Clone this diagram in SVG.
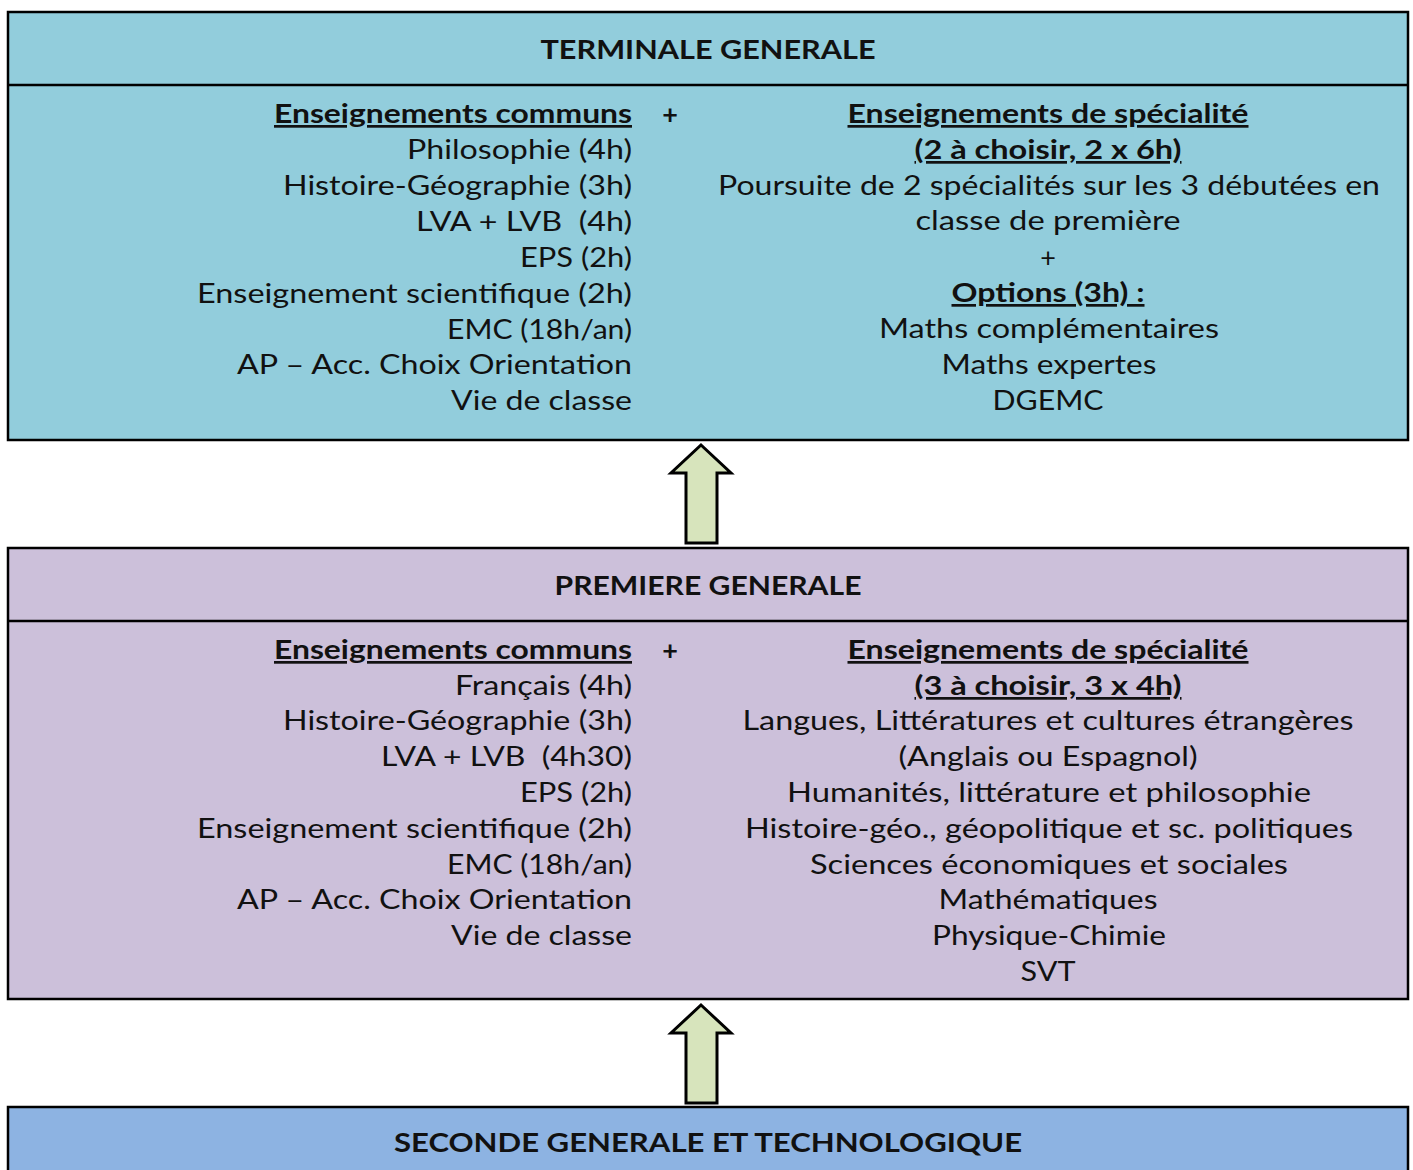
<svg xmlns="http://www.w3.org/2000/svg" width="1413" height="1170" viewBox="0 0 1413 1170">
<style>
text{font-family:Lato,"Open Sans","Liberation Sans",sans-serif;fill:#111;}
.h{font-size:26px;font-weight:bold;text-anchor:middle;}
.l{font-size:27px;text-anchor:end;}
.r{font-size:27px;text-anchor:middle;}
.u{font-weight:bold;text-decoration:underline;}
.box{stroke:#000;stroke-width:2.5;}
.div{stroke:#000;stroke-width:2.5;}
.arrow{fill:#D7E4BC;stroke:#000;stroke-width:3;stroke-linejoin:miter;}
</style>
<rect width="1413" height="1170" fill="#fff"/>
<g id="terminale">
<rect class="box" x="8" y="12" width="1400" height="428" fill="#92CDDC"/>
<line class="div" x1="8" y1="85" x2="1408" y2="85"/>
<text class="h" x="708" y="59" textLength="335" lengthAdjust="spacingAndGlyphs">TERMINALE GENERALE</text>
<text class="l u" x="632" y="123" textLength="358" lengthAdjust="spacingAndGlyphs">Enseignements communs</text>
<text class="r" x="670" y="124" font-weight="bold">+</text>
<text class="l" x="632" y="159" textLength="225" lengthAdjust="spacingAndGlyphs">Philosophie (4h)</text>
<text class="l" x="632" y="195" textLength="349" lengthAdjust="spacingAndGlyphs">Histoire-Géographie (3h)</text>
<text class="l" x="632" y="231" textLength="216" lengthAdjust="spacingAndGlyphs" xml:space="preserve">LVA + LVB  (4h)</text>
<text class="l" x="632" y="267" textLength="112" lengthAdjust="spacingAndGlyphs">EPS (2h)</text>
<text class="l" x="632" y="303" textLength="435" lengthAdjust="spacingAndGlyphs">Enseignement scientifique (2h)</text>
<text class="l" x="632" y="339" textLength="185" lengthAdjust="spacingAndGlyphs">EMC (18h/an)</text>
<text class="l" x="632" y="374" textLength="395" lengthAdjust="spacingAndGlyphs">AP – Acc. Choix Orientation</text>
<text class="l" x="632" y="410" textLength="181" lengthAdjust="spacingAndGlyphs">Vie de classe</text>
<text class="r u" x="1048" y="123" textLength="401" lengthAdjust="spacingAndGlyphs">Enseignements de spécialité</text>
<text class="r u" x="1048" y="159" textLength="267" lengthAdjust="spacingAndGlyphs">(2 à choisir, 2 x 6h)</text>
<text class="r" x="1049" y="195" textLength="662" lengthAdjust="spacingAndGlyphs">Poursuite de 2 spécialités sur les 3 débutées en</text>
<text class="r" x="1048" y="230" textLength="265" lengthAdjust="spacingAndGlyphs">classe de première</text>
<text class="r" x="1048" y="267">+</text>
<text class="r u" x="1048" y="302" textLength="193" lengthAdjust="spacingAndGlyphs">Options (3h) :</text>
<text class="r" x="1049" y="338" textLength="340" lengthAdjust="spacingAndGlyphs">Maths complémentaires</text>
<text class="r" x="1049" y="374" textLength="215" lengthAdjust="spacingAndGlyphs">Maths expertes</text>
<text class="r" x="1048" y="410" textLength="111" lengthAdjust="spacingAndGlyphs">DGEMC</text>
</g>
<g id="premiere">
<rect class="box" x="8" y="548" width="1400" height="451" fill="#CCC0DA"/>
<line class="div" x1="8" y1="621" x2="1408" y2="621"/>
<text class="h" x="708" y="595" textLength="307" lengthAdjust="spacingAndGlyphs">PREMIERE GENERALE</text>
<text class="l u" x="632" y="659" textLength="358" lengthAdjust="spacingAndGlyphs">Enseignements communs</text>
<text class="r" x="670" y="660" font-weight="bold">+</text>
<text class="l" x="632" y="695" textLength="177" lengthAdjust="spacingAndGlyphs">Français (4h)</text>
<text class="l" x="632" y="730" textLength="349" lengthAdjust="spacingAndGlyphs">Histoire-Géographie (3h)</text>
<text class="l" x="632" y="766" textLength="251" lengthAdjust="spacingAndGlyphs" xml:space="preserve">LVA + LVB  (4h30)</text>
<text class="l" x="632" y="802" textLength="112" lengthAdjust="spacingAndGlyphs">EPS (2h)</text>
<text class="l" x="632" y="838" textLength="435" lengthAdjust="spacingAndGlyphs">Enseignement scientifique (2h)</text>
<text class="l" x="632" y="874" textLength="185" lengthAdjust="spacingAndGlyphs">EMC (18h/an)</text>
<text class="l" x="632" y="909" textLength="395" lengthAdjust="spacingAndGlyphs">AP – Acc. Choix Orientation</text>
<text class="l" x="632" y="945" textLength="181" lengthAdjust="spacingAndGlyphs">Vie de classe</text>
<text class="r u" x="1048" y="659" textLength="401" lengthAdjust="spacingAndGlyphs">Enseignements de spécialité</text>
<text class="r u" x="1048" y="695" textLength="267" lengthAdjust="spacingAndGlyphs">(3 à choisir, 3 x 4h)</text>
<text class="r" x="1048" y="730" textLength="611" lengthAdjust="spacingAndGlyphs">Langues, Littératures et cultures étrangères</text>
<text class="r" x="1048" y="766" textLength="299" lengthAdjust="spacingAndGlyphs">(Anglais ou Espagnol)</text>
<text class="r" x="1049" y="802" textLength="524" lengthAdjust="spacingAndGlyphs">Humanités, littérature et philosophie</text>
<text class="r" x="1049" y="838" textLength="608" lengthAdjust="spacingAndGlyphs">Histoire-géo., géopolitique et sc. politiques</text>
<text class="r" x="1049" y="874" textLength="478" lengthAdjust="spacingAndGlyphs">Sciences économiques et sociales</text>
<text class="r" x="1048" y="909" textLength="219" lengthAdjust="spacingAndGlyphs">Mathématiques</text>
<text class="r" x="1049" y="945" textLength="234" lengthAdjust="spacingAndGlyphs">Physique-Chimie</text>
<text class="r" x="1048" y="981" textLength="55" lengthAdjust="spacingAndGlyphs">SVT</text>
</g>
<g id="seconde">
<rect class="box" x="8" y="1107" width="1400" height="80" fill="#8DB3E2"/>
<text class="h" x="708" y="1152" textLength="628" lengthAdjust="spacingAndGlyphs">SECONDE GENERALE ET TECHNOLOGIQUE</text>
</g>
<g id="connectors">
<polygon class="arrow" points="701,445 731,473 717,473 717,543 686,543 686,473 671,473"/>
<polygon class="arrow" points="701,1005 731,1033 717,1033 717,1103 686,1103 686,1033 671,1033"/>
</g>
</svg>
